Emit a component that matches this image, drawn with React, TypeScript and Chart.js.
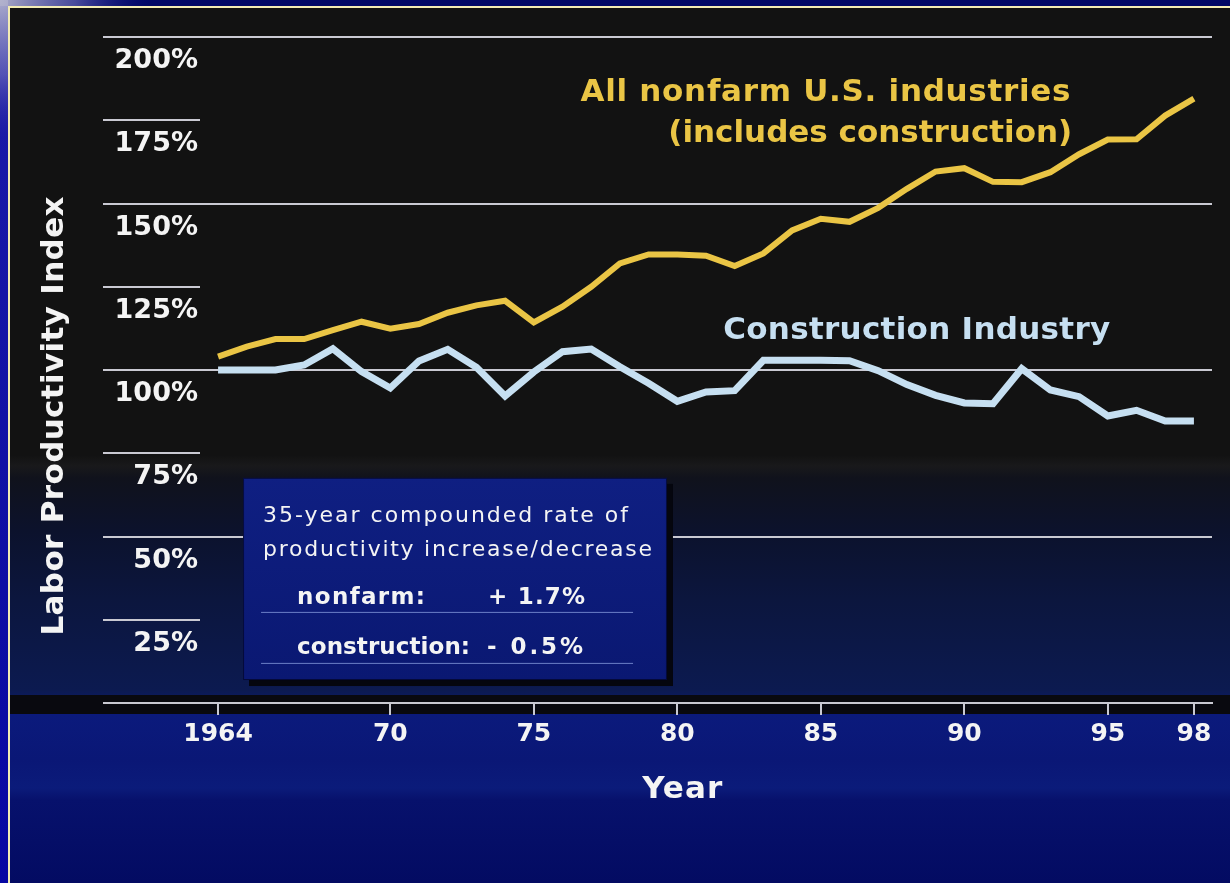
import React, { useEffect, useRef } from "react";
import { Chart, registerables } from "chart.js";

Chart.register(...registerables);

// ---------------- data ----------------
const YEARS = [
  1964, 1965, 1966, 1967, 1968, 1969, 1970, 1971, 1972, 1973, 1974, 1975,
  1976, 1977, 1978, 1979, 1980, 1981, 1982, 1983, 1984, 1985, 1986, 1987,
  1988, 1989, 1990, 1991, 1992, 1993, 1994, 1995, 1996, 1997, 1998,
];

const NONFARM_INDEX = [
  104.0, 107.0, 109.3, 109.3, 112.0, 114.5, 112.4, 113.8, 117.2, 119.4, 120.8, 114.3,
  119.0, 125.0, 132.0, 134.7, 134.7, 134.3, 131.2, 135.0, 141.9, 145.4, 144.5, 148.7,
  154.4, 159.6, 160.6, 156.5, 156.4, 159.4, 164.8, 169.2, 169.3, 176.4, 181.5,
];

const CONSTRUCTION_INDEX = [
  100.0, 100.0, 100.0, 101.5, 106.4, 99.5, 94.6, 102.7, 106.2, 100.8, 92.2, 99.4,
  105.5, 106.3, 101.0, 96.0, 90.6, 93.4, 93.8, 102.9, 102.9, 102.9, 102.8, 99.8,
  95.6, 92.4, 90.1, 89.9, 100.4, 94.0, 92.0, 86.2, 87.9, 84.7, 84.7,
];

const X_TICK_YEARS = [1964, 1970, 1975, 1980, 1985, 1990, 1995, 1998];
const X_TICK_LABELS = ["1964", "70", "75", "80", "85", "90", "95", "98"];
const Y_TICK_VALUES = [0, 25, 50, 75, 100, 125, 150, 175, 200];
const Y_TICK_LABELS = ["", "25%", "50%", "75%", "100%", "125%", "150%", "175%", "200%"];
const Y_FULL_GRID_VALUES = [0, 50, 100, 150, 200];

const SERIES_LABELS = ["All nonfarm U.S. industries", "(includes construction)", "Construction Industry"];
const BOX_LINES = ["35-year compounded rate of", "productivity increase/decrease"];
const RATE_NAMES = ["nonfarm:", "construction:"];
const RATE_VALUES = ["+ 1.7%", "- 0.5%"];
const X_TITLE = "Year";
const Y_TITLE = "Labor Productivity Index";

// ---------------- styles ----------------
const GOLD = "#eac545";
const ICE = "#c6dff1";
const GRID = "#c9c9d2";
const WHITE = "#f4f4f4";
const WIDE = "'DejaVu Sans', Verdana, sans-serif";

type Align = "left" | "right" | "center";

function drawSpaced(
  ctx: CanvasRenderingContext2D,
  text: string,
  x: number,
  y: number,
  o: { size: number; weight: string; color: string; width: number; align: Align; family?: string }
) {
  const c: any = ctx;
  ctx.font = `${o.weight} ${o.size}px ${o.family || WIDE}`;
  c.letterSpacing = "0px";
  const w0 = ctx.measureText(text).width;
  let sp = text.length > 1 ? (o.width - w0) / (text.length - 1) : 0;
  sp = Math.max(-0.5, Math.min(4, sp));
  c.letterSpacing = `${sp}px`;
  const total = w0 + sp * (text.length - 1);
  const x0 = o.align === "left" ? x : o.align === "right" ? x - total : x - total / 2;
  ctx.textAlign = "left";
  ctx.textBaseline = "middle";
  ctx.fillStyle = o.color;
  ctx.fillText(text, x0, y);
  c.letterSpacing = "0px";
}

const slideBackground = {
  id: "slideBackground",
  beforeDraw(chart: any) {
    const { ctx, width: W, height: H, chartArea: ca } = chart;
    ctx.save();
    ctx.fillStyle = "#02086a";
    ctx.fillRect(0, 0, W, H);
    const ls = ctx.createLinearGradient(0, 0, 0, H);
    ls.addColorStop(0, "#1c1ca8");
    ls.addColorStop(1, "#0707a2");
    ctx.fillStyle = ls;
    ctx.fillRect(0, 0, 8, H);
    ctx.fillStyle = "#010866";
    ctx.fillRect(8, 0, W - 8, 6);
    const rg = ctx.createRadialGradient(0, 0, 0, 0, 0, 150);
    rg.addColorStop(0, "rgba(180,180,205,0.95)");
    rg.addColorStop(0.5, "rgba(120,120,190,0.6)");
    rg.addColorStop(1, "rgba(20,20,150,0)");
    ctx.fillStyle = rg;
    ctx.fillRect(0, 0, 150, 6);
    ctx.fillRect(0, 0, 8, 150);
    ctx.fillStyle = "#f3ecb4";
    ctx.fillRect(8, 6, W - 8, 2);
    ctx.fillRect(8, 6, 2, H - 6);

    const pg = ctx.createLinearGradient(0, 8, 0, H);
    const st = (y: number, c: string) => pg.addColorStop(Math.min(1, Math.max(0, (y - 8) / (H - 8))), c);
    st(8, "#121212");
    st(455, "#121212");
    st(466, "#19191b");
    st(478, "#10121c");
    st(530, "#0c122c");
    st(600, "#0c163e");
    st(690, "#0c1a50");
    st(714, "#0b1a7c");
    st(760, "#0a1776");
    st(788, "#0b1b7a");
    st(800, "#07116c");
    st(H, "#030b62");
    ctx.fillStyle = pg;
    ctx.fillRect(10, 8, W - 10, H - 8);

    ctx.fillStyle = "#09090f";
    ctx.fillRect(10, ca.bottom - 8, W - 10, 19);
    ctx.restore();
  },
};

const annotations = {
  id: "annotations",
  afterDraw(chart: any) {
    const { ctx } = chart;
    const xs = chart.scales.x;
    const ys = chart.scales.y;
    ctx.save();

    // series labels
    drawSpaced(ctx, SERIES_LABELS[0], xs.getPixelForValue(1993.7), ys.getPixelForValue(183.2), {
      size: 31, weight: "bold", color: GOLD, width: 490, align: "right",
    });
    drawSpaced(ctx, SERIES_LABELS[1], xs.getPixelForValue(1993.76), ys.getPixelForValue(171.0), {
      size: 31, weight: "bold", color: GOLD, width: 404, align: "right",
    });
    drawSpaced(ctx, SERIES_LABELS[2], xs.getPixelForValue(1981.6), ys.getPixelForValue(111.6), {
      size: 31, weight: "bold", color: ICE, width: 387, align: "left",
    });

    // summary box
    const bx0 = xs.getPixelForValue(1964.87);
    const bx1 = xs.getPixelForValue(1979.64);
    const by0 = ys.getPixelForValue(67.6);
    const by1 = ys.getPixelForValue(6.9);
    const bw = bx1 - bx0;
    const bh = by1 - by0;
    ctx.fillStyle = "#05060e";
    ctx.fillRect(bx0 + 6, by0 + 6, bw, bh);
    const bg = ctx.createLinearGradient(0, by0, 0, by1);
    bg.addColorStop(0, "#0f1f82");
    bg.addColorStop(1, "#0a1872");
    ctx.fillStyle = bg;
    ctx.fillRect(bx0, by0, bw, bh);
    ctx.strokeStyle = "rgba(0,0,20,0.6)";
    ctx.lineWidth = 1;
    ctx.strokeRect(bx0 + 0.5, by0 + 0.5, bw - 1, bh - 1);

    drawSpaced(ctx, BOX_LINES[0], bx0 + 20, by0 + 38, { size: 22, weight: "normal", color: WHITE, width: 365, align: "left" });
    drawSpaced(ctx, BOX_LINES[1], bx0 + 20, by0 + 72, { size: 22, weight: "normal", color: WHITE, width: 389, align: "left" });
    drawSpaced(ctx, RATE_NAMES[0], bx0 + 54, by0 + 120, { size: 23, weight: "bold", color: WHITE, width: 128, align: "left" });
    drawSpaced(ctx, RATE_VALUES[0], bx0 + 245, by0 + 120, { size: 23, weight: "bold", color: WHITE, width: 97, align: "left" });
    drawSpaced(ctx, RATE_NAMES[1], bx0 + 54, by0 + 170, { size: 23, weight: "bold", color: WHITE, width: 173, align: "left" });
    drawSpaced(ctx, RATE_VALUES[1], bx0 + 244, by0 + 170, { size: 23, weight: "bold", color: WHITE, width: 96, align: "left" });
    ctx.strokeStyle = "rgba(140,160,225,0.75)";
    ctx.lineWidth = 1;
    [134, 185].forEach((dy) => {
      ctx.beginPath();
      ctx.moveTo(bx0 + 18, by0 + dy + 0.5);
      ctx.lineTo(bx0 + 390, by0 + dy + 0.5);
      ctx.stroke();
    });

    // axis titles
    ctx.save();
    ctx.translate(55, 416);
    ctx.rotate(-Math.PI / 2);
    drawSpaced(ctx, Y_TITLE, 0, 0, { size: 31, weight: "bold", color: WHITE, width: 439, align: "center" });
    ctx.restore();
    drawSpaced(ctx, X_TITLE, xs.getPixelForValue(1980.17), 790, { size: 31, weight: "bold", color: WHITE, width: 80, align: "center" });

    ctx.restore();
  },
};

export default function App() {
  const ref = useRef<HTMLCanvasElement>(null);

  useEffect(() => {
    if (!ref.current) return;
    const chart = new Chart(ref.current, {
      type: "line",
      data: {
        datasets: [
          {
            label: "All nonfarm U.S. industries",
            data: YEARS.map((yr, i) => ({ x: yr, y: NONFARM_INDEX[i] })),
            borderColor: GOLD,
            borderWidth: 6,
            pointRadius: 0,
            tension: 0,
            borderJoinStyle: "miter",
            fill: false,
          },
          {
            label: "Construction Industry",
            data: YEARS.map((yr, i) => ({ x: yr, y: CONSTRUCTION_INDEX[i] })),
            borderColor: ICE,
            borderWidth: 7,
            pointRadius: 0,
            tension: 0,
            borderJoinStyle: "miter",
            fill: false,
          },
        ],
      },
      options: {
        animation: false,
        responsive: false,
        devicePixelRatio: 1,
        layout: { padding: { left: 103, right: 18, top: 37, bottom: 80 } },
        plugins: {
          legend: { display: false },
          tooltip: { enabled: false },
        },
        scales: {
          x: {
            type: "linear",
            min: 1963.37,
            max: 1998.63,
            afterBuildTicks: (scale: any) => {
              scale.ticks = X_TICK_YEARS.map((v) => ({ value: v }));
            },
            afterFit: (scale: any) => {
              scale.height = 100;
            },
            grid: {
              drawOnChartArea: false,
              drawTicks: true,
              tickLength: 12,
              color: GRID,
              lineWidth: 2,
            },
            border: { display: true, color: GRID, width: 2 },
            ticks: {
              autoSkip: false,
              maxRotation: 0,
              padding: 4,
              color: WHITE,
              font: { family: WIDE, size: 25, weight: "bold" },
              callback: (v: any) => {
                const i = X_TICK_YEARS.indexOf(Number(v));
                return i >= 0 ? X_TICK_LABELS[i] : "";
              },
            },
          },
          y: {
            type: "linear",
            min: 0,
            max: 200,
            afterBuildTicks: (scale: any) => {
              scale.ticks = Y_TICK_VALUES.map((v) => ({ value: v }));
            },
            afterFit: (scale: any) => {
              scale.width = 97;
            },
            grid: {
              drawTicks: true,
              tickLength: 97,
              lineWidth: 2,
              tickWidth: 2,
              tickColor: GRID,
              color: (c: any) =>
                c.tick && Y_FULL_GRID_VALUES.includes(c.tick.value) ? GRID : "rgba(0,0,0,0)",
            },
            border: { display: false },
            ticks: {
              padding: -95,
              labelOffset: 24,
              color: WHITE,
              font: { family: WIDE, size: 27, weight: "bold" },
              callback: (v: any) => {
                const i = Y_TICK_VALUES.indexOf(Number(v));
                return i >= 0 ? Y_TICK_LABELS[i] : "";
              },
            },
          },
        },
      },
      plugins: [slideBackground, annotations],
    } as any);
    return () => chart.destroy();
  }, []);

  return (
    <div style={{ position: "absolute", left: 0, top: 0, width: 1230, height: 883, overflow: "hidden" }}>
      <canvas ref={ref} width={1230} height={883} style={{ display: "block", width: 1230, height: 883 }} />
    </div>
  );
}
